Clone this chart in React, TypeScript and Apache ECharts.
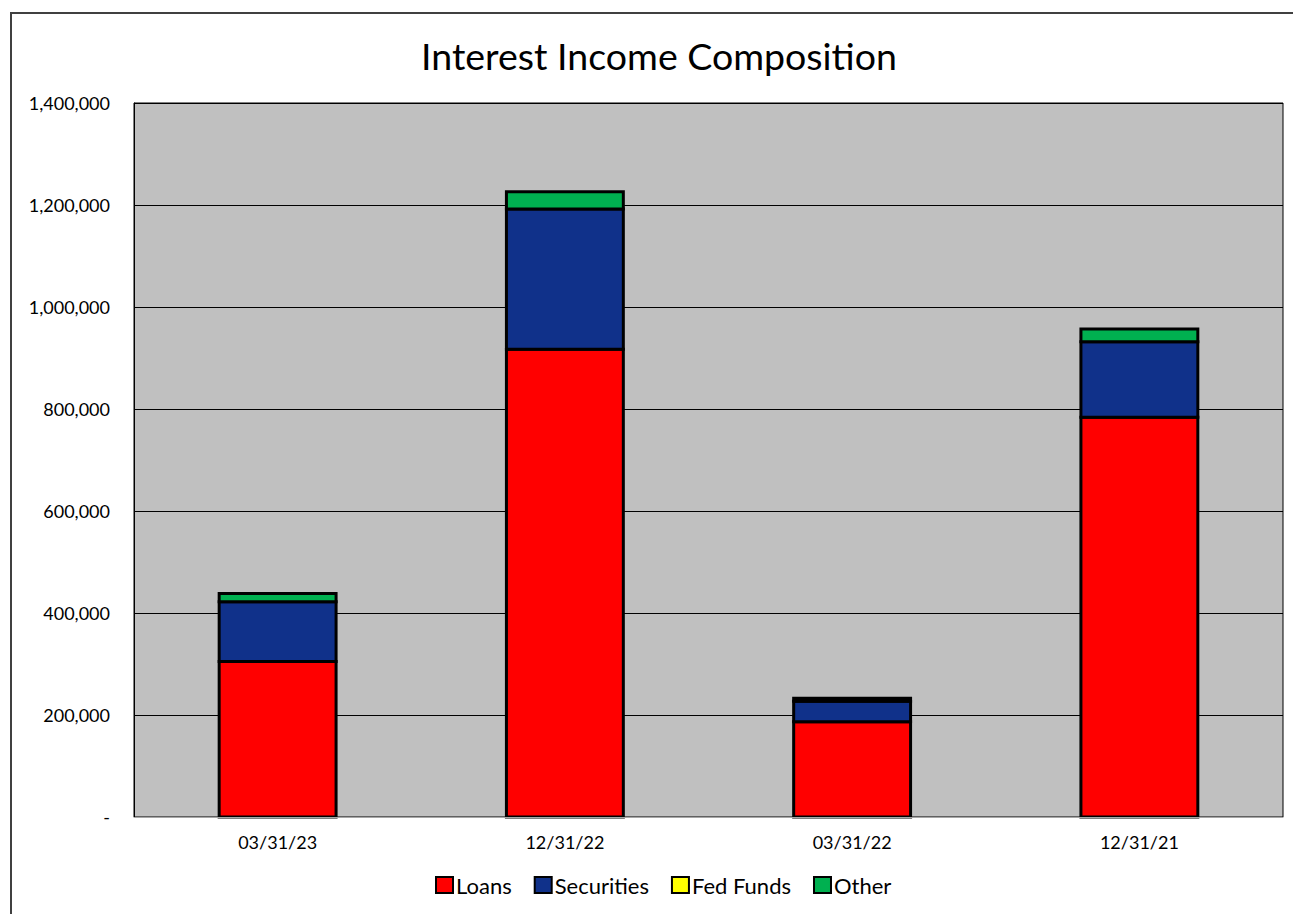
import React, { useEffect, useRef } from "react";
import * as echarts from "echarts";

const categories = ["03/31/23", "12/31/22", "03/31/22", "12/31/21"];
const loans = [305000, 917000, 187000, 784000];
const securities = [117000, 275000, 40000, 148000];
const fedFunds = [0, 0, 0, 0];
const other = [16000, 34000, 6000, 25000];
const seriesNames = ["Loans", "Securities", "Fed Funds", "Other"];
const seriesColors = ["#FF0000", "#10318A", "#FFFF00", "#00B050"];

const FONT = "Lato, 'Noto Sans', sans-serif";
const BAR_RATIO = 0.407;

export default function App() {
  const ref = useRef<HTMLDivElement>(null);
  useEffect(() => {
    if (!ref.current) return;
    const chart = echarts.init(ref.current, undefined, { renderer: "svg" });
    const data = [loans, securities, fedFunds, other];
    const makeSeries = (si: number) => ({
      name: seriesNames[si],
      type: "custom",
      itemStyle: { color: seriesColors[si] },
      encode: { x: 0, y: 1 },
      data: data[si].map((v, i) => [i, v]),
      renderItem: (params: any, api: any) => {
        const idx = params.dataIndex;
        const value = data[si][idx];
        if (!value) return null;
        let base = 0;
        for (let k = 0; k < si; k++) base += data[k][idx];
        const p0 = api.coord([idx, base]);
        const p1 = api.coord([idx, base + value]);
        const w = api.size([1, 0])[0] * BAR_RATIO;
        return {
          type: "rect",
          shape: { x: p0[0] - w / 2, y: p1[1], width: w, height: p0[1] - p1[1] },
          style: { fill: seriesColors[si], stroke: "#000", lineWidth: 3 },
          z2: si,
        };
      },
    });
    chart.setOption({
      animation: false,
      backgroundColor: "#FFFFFF",
      textStyle: { fontFamily: FONT },
      title: {
        text: "Interest Income Composition",
        left: 654,
        textAlign: "center",
        top: 31,
        textStyle: { fontFamily: FONT, fontSize: 37.5, fontWeight: "normal", color: "#000" },
      },
      graphic: [
        {
          type: "rect",
          shape: { x: 11, y: 13, width: 1400, height: 1000 },
          style: { fill: "none", stroke: "#404040", lineWidth: 2 },
          silent: true,
          z: -10,
        },
      ],
      legend: {
        bottom: 13,
        left: 430,
        itemWidth: 17,
        itemHeight: 16,
        itemGap: 22,
        icon: "rect",
        textStyle: { fontFamily: FONT, fontSize: 22, color: "#000", padding: [0, 0, 0, -2] },
        data: seriesNames.map((n, i) => ({
          name: n,
          itemStyle: { color: seriesColors[i], borderColor: "#000", borderWidth: 2 },
        })),
      },
      grid: {
        left: 134,
        right: 10,
        top: 103,
        bottom: 97,
        show: true,
        backgroundColor: "#C0C0C0",
        borderColor: "#000",
        borderWidth: 1,
      },
      xAxis: {
        type: "category",
        data: categories,
        axisLine: { lineStyle: { color: "#A6A6A6", width: 1 } },
        axisTick: { show: false },
        axisLabel: { fontFamily: FONT, fontSize: 18, color: "#000", margin: 16 },
        z: 10,
      },
      yAxis: {
        type: "value",
        min: 0,
        max: 1400000,
        interval: 200000,
        axisLine: { show: true, lineStyle: { color: "#000" } },
        axisTick: { show: false },
        splitLine: { lineStyle: { color: "#000", width: 1 } },
        axisLabel: {
          fontFamily: FONT,
          fontSize: 18,
          color: "#000",
          margin: 24,
          formatter: (v: number) => (v === 0 ? "-" : v.toLocaleString("en-US")),
        },
      },
      series: seriesNames.map((_, i) => makeSeries(i)),
    });
    return () => chart.dispose();
  }, []);
  return (
    <div
      ref={ref}
      style={{ position: "fixed", left: 0, top: 0, width: 1293, height: 914 }}
    />
  );
}
